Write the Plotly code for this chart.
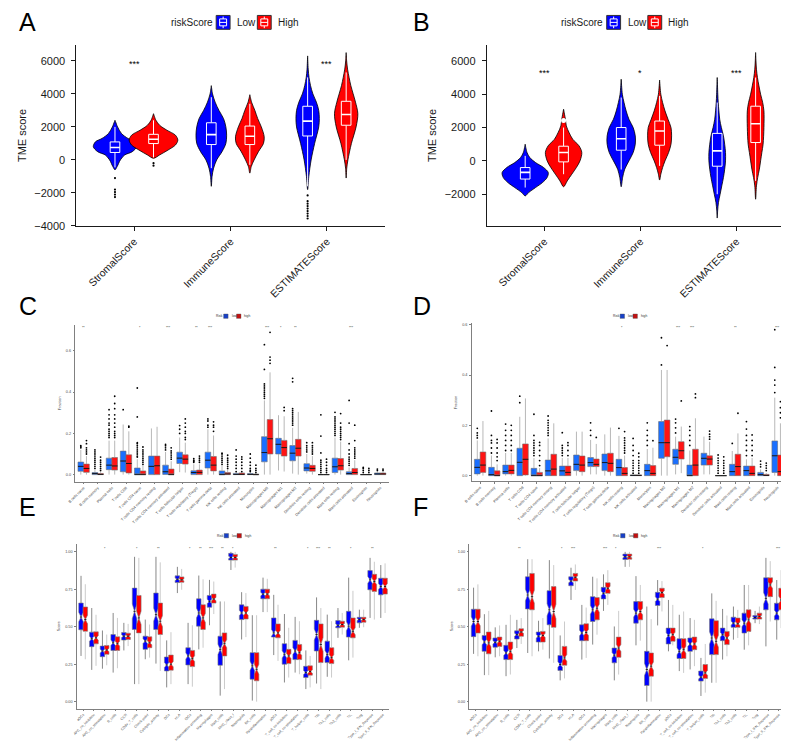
import numpy as np
import plotly.graph_objects as go

W, H = 789, 742
FONT = "Liberation Sans, Arial, sans-serif"

# ---------------- DATA ----------------
TME_CATS = ["StromalScore", "ImmuneScore", "ESTIMATEScore"]

# Panel A violin density profiles
A_LOW_LEVELS = [
    [-600, -400, 0, 300, 500, 800, 1100, 1300, 1600, 2000, 2300, 2400],
    [-1600, -1000, -500, 0, 500, 1000, 1500, 2000, 2500, 3000, 3500, 4000, 4500],
    [-1800, -1000, 0, 1000, 2000, 2500, 3000, 3500, 4000, 4500, 5000, 5500, 6300],
]
A_LOW_DENS = [
    [0, 0.1, 0.25, 0.45, 0.8, 1.0, 0.9, 0.6, 0.3, 0.12, 0.03, 0],
    [0, 0.05, 0.15, 0.35, 0.7, 0.95, 1.0, 0.95, 0.8, 0.5, 0.25, 0.08, 0],
    [0, 0.1, 0.3, 0.6, 0.95, 1.0, 0.95, 0.75, 0.45, 0.25, 0.12, 0.05, 0],
]
A_LOW_PEAK = [0.89, 0.63, 0.48]
A_HIGH_LEVELS = [
    [100, 300, 600, 900, 1200, 1500, 1800, 2100, 2400, 2800],
    [-800, -400, 0, 500, 1000, 1400, 2000, 2500, 3000, 3500, 3950],
    [-1100, -500, 0, 1000, 2000, 2800, 3500, 4000, 4500, 5000, 5500, 6000, 6500],
]
A_HIGH_DENS = [
    [0, 0.25, 0.6, 0.9, 1.0, 0.9, 0.55, 0.25, 0.1, 0],
    [0, 0.1, 0.3, 0.6, 0.95, 1.0, 0.8, 0.55, 0.35, 0.12, 0],
    [0, 0.05, 0.15, 0.45, 0.85, 1.0, 0.8, 0.6, 0.4, 0.25, 0.12, 0.04, 0],
]
A_HIGH_PEAK = [1.0, 0.59, 0.48]
A_LOW_Q1 = [450, 930, 1450]
A_LOW_MED = [750, 1530, 2350]
A_LOW_Q3 = [1090, 2250, 3250]
A_LOW_LO = [-450, -500, -1600]
A_LOW_HI = [2000, 3800, 5000]
A_HIGH_Q1 = [990, 930, 2100]
A_HIGH_MED = [1250, 1430, 2750]
A_HIGH_Q3 = [1550, 2050, 3550]
A_HIGH_LO = [150, -300, 0]
A_HIGH_HI = [2400, 3400, 5300]
A_LOW_OUT = [[-1100, -1800, -1950, -2100, -2250], [],
             [-2150, -2500, -2650, -2800, -2950, -3100, -3250, -3400, -3550]]
A_HIGH_OUT = [[-200, -350], [], []]
A_SIG = ["***", "", "***"]

# Panel B
B_LOW_LEVELS = [
    [-2100, -1900, -1600, -1300, -1000, -700, -400, -100, 200, 500, 1000],
    [-1550, -1000, -500, 0, 500, 1000, 1500, 2000, 2500, 3000, 3500, 4000, 4900],
    [-3430, -3000, -2500, -2000, -1500, -1000, -500, 0, 500, 1000, 1500, 2000, 2500, 3000, 3500, 4000, 5000],
]
B_LOW_DENS = [
    [0, 0.15, 0.45, 0.75, 0.95, 1.0, 0.8, 0.45, 0.2, 0.08, 0],
    [0, 0.1, 0.25, 0.55, 0.85, 1.0, 1.0, 0.85, 0.55, 0.35, 0.2, 0.08, 0],
    [0, 0.05, 0.15, 0.35, 0.55, 0.75, 0.9, 1.0, 1.0, 0.9, 0.75, 0.5, 0.3, 0.2, 0.12, 0.07, 0],
]
B_LOW_PEAK = [1.0, 0.61, 0.36]
B_HIGH_LEVELS = [
    [-1550, -1200, -800, -400, 0, 500, 900, 1300, 1700, 2100, 2500, 2800, 3100],
    [-1150, -800, -400, 0, 500, 1000, 1500, 2000, 2500, 3000, 3500, 4000, 4850],
    [-2300, -1500, -1000, -500, 0, 500, 1000, 2000, 3000, 3500, 4000, 4500, 5000, 5500, 6000, 6500],
]
B_HIGH_DENS = [
    [0, 0.2, 0.45, 0.7, 0.9, 1.0, 0.85, 0.5, 0.3, 0.15, 0.1, 0.05, 0],
    [0, 0.1, 0.25, 0.45, 0.75, 0.95, 1.0, 0.95, 0.7, 0.45, 0.25, 0.1, 0],
    [0, 0.1, 0.25, 0.45, 0.6, 0.75, 0.9, 1.0, 1.0, 0.85, 0.6, 0.4, 0.22, 0.1, 0.04, 0],
]
B_HIGH_PEAK = [0.79, 0.52, 0.36]
B_LOW_Q1 = [-1090, 640, -320]
B_LOW_MED = [-690, 1330, 600]
B_LOW_Q3 = [-400, 2000, 1650]
B_LOW_LO = [-1600, -520, -2000]
B_LOW_HI = [300, 3800, 3500]
B_HIGH_Q1 = [-60, 940, 1100]
B_HIGH_MED = [500, 1790, 2230]
B_HIGH_Q3 = [880, 2390, 3280]
B_HIGH_LO = [-800, -300, -1200]
B_HIGH_HI = [2000, 3900, 5000]
B_HIGH_OUT = [[2430], [], []]
B_SIG = ["***", "*", "***"]

# Panels C / D (CIBERSORT fractions)
CELL_CATS = ["B cells naive", "B cells memory", "Plasma cells", "T cells CD8", "T cells CD4 naive",
             "T cells CD4 memory resting", "T cells CD4 memory activated", "T cells follicular helper",
             "T cells regulatory (Tregs)", "T cells gamma delta", "NK cells resting", "NK cells activated",
             "Monocytes", "Macrophages M0", "Macrophages M1", "Macrophages M2", "Dendritic cells resting",
             "Dendritic cells activated", "Mast cells resting", "Mast cells activated", "Eosinophils",
             "Neutrophils"]
C_LOW_Q1 = [0.016, 0, 0.024, 0.014, 0, 0, 0.001, 0.054, 0, 0.032, 0, 0, 0, 0.062, 0.1, 0.067, 0.018, 0, 0.01, 0, 0, 0]
C_LOW_MED = [0.04, 0.005, 0.046, 0.066, 0, 0.04, 0.014, 0.08, 0.01, 0.07, 0, 0.001, 0.001, 0.107, 0.147, 0.104, 0.032, 0, 0.038, 0.005, 0, 0.003]
C_LOW_Q3 = [0.061, 0.01, 0.08, 0.114, 0.032, 0.09, 0.046, 0.109, 0.019, 0.109, 0.018, 0.006, 0.005, 0.184, 0.176, 0.141, 0.053, 0, 0.08, 0.014, 0, 0.008]
C_LOW_LO = [0, 0, 0, 0, 0, 0, 0, 0.012, 0, 0, 0, 0, 0, 0, 0.02, 0.005, 0.005, 0, 0, 0, 0, 0]
C_LOW_HI = [0.12, 0.022, 0.165, 0.243, 0.075, 0.224, 0.11, 0.18, 0.05, 0.22, 0.045, 0.012, 0.01, 0.36, 0.288, 0.227, 0.1, 0, 0.18, 0.035, 0, 0.012]
C_HIGH_Q1 = [0.011, 0, 0.022, 0.008, 0, 0, 0, 0.051, 0, 0.018, 0, 0, 0, 0.1, 0.09, 0.09, 0.016, 0, 0.022, 0, 0, 0]
C_HIGH_MED = [0.03, 0.001, 0.042, 0.054, 0, 0.043, 0, 0.075, 0.011, 0.046, 0.003, 0.001, 0, 0.174, 0.131, 0.128, 0.03, 0, 0.043, 0.01, 0, 0.003]
C_HIGH_Q3 = [0.051, 0.005, 0.083, 0.096, 0.018, 0.09, 0.027, 0.096, 0.022, 0.088, 0.01, 0.008, 0.003, 0.267, 0.166, 0.171, 0.045, 0, 0.078, 0.03, 0, 0.008]
C_HIGH_LO = [0, 0, 0, 0, 0, 0, 0, 0.01, 0, 0, 0, 0, 0, 0, 0.015, 0, 0, 0, 0, 0, 0, 0]
C_HIGH_HI = [0.09, 0.012, 0.165, 0.21, 0.045, 0.232, 0.065, 0.155, 0.05, 0.19, 0.025, 0.012, 0.006, 0.496, 0.283, 0.304, 0.09, 0, 0.16, 0.07, 0, 0.012]
C_LOW_OUT = [[0.13, 0.135, 0.14], [0.03, 0.04, 0.05, 0.06, 0.07, 0.08, 0.09, 0.1, 0.11, 0.12],
             [0.18, 0.19, 0.2, 0.21, 0.22, 0.24, 0.25, 0.27, 0.29, 0.315], [0.315],
             [0.085, 0.09, 0.1, 0.11, 0.12, 0.13, 0.14, 0.15, 0.155, 0.28, 0.42], [],
             [0.12, 0.13, 0.14, 0.147], [0.2, 0.22, 0.238], [0.06, 0.065, 0.07, 0.078],
             [0.23, 0.24, 0.26, 0.27], [0.05, 0.06, 0.07, 0.08, 0.09, 0.1, 0.104],
             [0.015, 0.03, 0.045, 0.06, 0.075, 0.09, 0.12], [0.015, 0.02, 0.03, 0.045, 0.06, 0.08, 0.1],
             [0.37, 0.38, 0.39, 0.4, 0.41, 0.42, 0.43, 0.44, 0.51, 0.63], [],
             [0.24, 0.25, 0.26, 0.27, 0.28, 0.29, 0.3, 0.31, 0.32, 0.45, 0.467],
             [0.11, 0.12, 0.13, 0.14, 0.155], [0.01, 0.02, 0.03, 0.04, 0.05, 0.06, 0.07, 0.105, 0.187, 0.29],
             [0.19, 0.2, 0.21, 0.22, 0.23, 0.24, 0.25, 0.26, 0.27, 0.28, 0.302],
             [0.045, 0.055, 0.065, 0.075, 0.085, 0.1, 0.12, 0.15, 0.25, 0.36], [0.01, 0.02, 0.03, 0.035],
             [0.02, 0.027]]
C_HIGH_OUT = [[0.1, 0.11, 0.12, 0.13, 0.15, 0.165], [0.02, 0.03, 0.04, 0.05, 0.06, 0.07, 0.085],
              [0.18, 0.19, 0.2, 0.21, 0.23, 0.25, 0.27, 0.29, 0.32, 0.345, 0.38], [0.23, 0.235],
              [0.05, 0.06, 0.07, 0.08, 0.09, 0.1, 0.11, 0.12, 0.134], [],
              [0.075, 0.085, 0.095, 0.105, 0.115, 0.13], [0.17, 0.18, 0.2, 0.21, 0.23, 0.25, 0.27],
              [0.06, 0.07, 0.08, 0.09], [0.21, 0.23, 0.24, 0.256], [0.03, 0.04, 0.05, 0.06, 0.07, 0.08, 0.094],
              [0.015, 0.03, 0.045, 0.06, 0.075, 0.086], [0.01, 0.02, 0.03, 0.046], [0.54, 0.555, 0.57, 0.69],
              [0.31, 0.326], [], [0.1, 0.11, 0.12, 0.13, 0.14, 0.155], [0.01, 0.02, 0.03, 0.045, 0.06, 0.075],
              [0.17, 0.18, 0.19, 0.2, 0.21, 0.22, 0.23, 0.25, 0.296], [0.08, 0.09, 0.1, 0.11, 0.12, 0.13, 0.165, 0.24],
              [0.01, 0.02, 0.03], [0.02, 0.027]]
C_SIG = ["**", "", "", "", "*", "", "***", "", "**", "***", "", "", "", "***", "*", "**", "", "", "", "***", "", ""]

D_LOW_Q1 = [0.007, 0, 0.007, 0, 0, 0, 0, 0.02, 0.036, 0.02, 0, 0, 0, 0.069, 0.045, 0, 0.042, 0, 0, 0, 0, 0.013]
D_LOW_MED = [0.033, 0.004, 0.016, 0.053, 0, 0.019, 0.019, 0.045, 0.052, 0.052, 0.032, 0.001, 0.02, 0.131, 0.073, 0, 0.069, 0, 0.016, 0.02, 0.004, 0.079]
D_LOW_Q3 = [0.065, 0.033, 0.042, 0.109, 0.029, 0.062, 0.038, 0.082, 0.072, 0.086, 0.065, 0.003, 0.045, 0.215, 0.105, 0.042, 0.089, 0, 0.045, 0.038, 0.013, 0.138]
D_LOW_LO = [0, 0, 0, 0, 0, 0, 0, 0, 0.005, 0, 0, 0, 0, 0, 0.005, 0, 0.005, 0, 0, 0, 0, 0]
D_LOW_HI = [0.14, 0.08, 0.09, 0.234, 0.07, 0.148, 0.07, 0.175, 0.142, 0.164, 0.158, 0.005, 0.106, 0.42, 0.155, 0.1, 0.155, 0, 0.098, 0.065, 0.025, 0.31]
D_HIGH_Q1 = [0.013, 0, 0.007, 0.003, 0, 0, 0, 0.016, 0.036, 0.016, 0, 0, 0, 0.075, 0.066, 0, 0.042, 0, 0, 0, 0, 0]
D_HIGH_MED = [0.042, 0, 0.021, 0.065, 0, 0.026, 0.013, 0.042, 0.045, 0.049, 0.009, 0.001, 0.009, 0.131, 0.099, 0.042, 0.066, 0, 0.036, 0.009, 0.001, 0.016]
D_HIGH_Q3 = [0.094, 0.019, 0.042, 0.126, 0.013, 0.085, 0.038, 0.078, 0.066, 0.089, 0.032, 0.003, 0.04, 0.221, 0.135, 0.105, 0.079, 0, 0.085, 0.038, 0.005, 0.082]
D_HIGH_LO = [0, 0, 0, 0, 0, 0, 0, 0, 0.005, 0, 0, 0, 0, 0, 0.01, 0, 0.005, 0, 0, 0, 0, 0]
D_HIGH_HI = [0.217, 0.045, 0.09, 0.307, 0.03, 0.208, 0.07, 0.175, 0.126, 0.191, 0.08, 0.005, 0.111, 0.42, 0.195, 0.228, 0.135, 0, 0.168, 0.07, 0.01, 0.208]
D_LOW_OUT = [[0.15, 0.16, 0.17, 0.188], [0.09, 0.11, 0.13, 0.14, 0.16, 0.257], [0.1, 0.12, 0.14, 0.16, 0.18, 0.205],
             [0.29, 0.316], [0.08, 0.09, 0.1, 0.11, 0.12, 0.13, 0.14, 0.16, 0.244],
             [0.16, 0.17, 0.18, 0.19, 0.2, 0.21, 0.22, 0.237], [0.08, 0.09, 0.1, 0.11, 0.12, 0.171], [],
             [0.16, 0.18, 0.21], [], [0.188], [0.01, 0.02, 0.03, 0.04, 0.05, 0.06, 0.08, 0.1, 0.12, 0.148],
             [0.12, 0.14, 0.16, 0.18, 0.21], [0.44, 0.548], [0.17, 0.19, 0.21, 0.225],
             [0.12, 0.14, 0.16, 0.18, 0.195], [], [0.01, 0.02, 0.03, 0.04, 0.05, 0.06, 0.07, 0.082], [0.128],
             [0.08, 0.1, 0.12, 0.14, 0.16, 0.185, 0.215], [0.035, 0.045, 0.058], [0.33, 0.36, 0.38, 0.43, 0.58]]
D_HIGH_OUT = [[], [0.06, 0.075, 0.09, 0.11, 0.13, 0.144], [0.1, 0.12, 0.14, 0.16, 0.18, 0.2], [],
              [0.04, 0.06, 0.08, 0.1, 0.12, 0.132], [], [0.08, 0.1, 0.12, 0.131], [], [0.152], [],
              [0.09, 0.1, 0.11, 0.12, 0.13, 0.14, 0.15, 0.175], [0.01, 0.02, 0.03, 0.04, 0.05, 0.06, 0.075, 0.089],
              [0.139], [0.517], [0.297], [0.31, 0.325], [0.145, 0.155, 0.165, 0.177],
              [0.01, 0.02, 0.03, 0.04, 0.05, 0.06, 0.075], [0.248], [0.08, 0.1, 0.12, 0.14, 0.162],
              [0.02, 0.03, 0.04, 0.05], [0.23, 0.25, 0.27, 0.294]]
D_SIG = ["", "", "", "", "", "", "", "", "", "", "*", "", "", "", "***", "***", "", "", "**", "", "", "***"]

# Panels E / F (ssGSEA immune function scores)
FUNC_CATS = ["aDCs", "APC_co_inhibition", "APC_co_stimulation", "B_cells", "CCR", "CD8+_T_cells",
             "Check-point", "Cytolytic_activity", "DCs", "HLA", "iDCs", "Inflammation-promoting",
             "Macrophages", "Mast_cells", "MHC_class_I", "Neutrophils", "NK_cells", "Parainflammation",
             "pDCs", "T_cell_co-inhibition", "T_cell_co-stimulation", "T_helper_cells", "Tfh", "Th1_cells",
             "Th2_cells", "TIL", "Treg", "Type_I_IFN_Reponse", "Type_II_IFN_Reponse"]
E_LOW_Q1 = [0.48, 0.367, 0.30, 0.342, 0.411, 0.482, 0.349, 0.482, 0.205, 0.795, 0.245, 0.504, 0.63, 0.243, 0.945, 0.548, 0.15, 0.687, 0.431, 0.25, 0.281, 0.161, 0.338, 0.261, 0.493, 0.431, 0.526, 0.747, 0.713]
E_LOW_MED = [0.565, 0.42, 0.338, 0.393, 0.437, 0.603, 0.404, 0.581, 0.245, 0.817, 0.305, 0.592, 0.669, 0.349, 0.963, 0.592, 0.239, 0.718, 0.459, 0.316, 0.338, 0.194, 0.448, 0.316, 0.51, 0.504, 0.548, 0.813, 0.769]
E_LOW_Q3 = [0.658, 0.464, 0.371, 0.448, 0.462, 0.758, 0.437, 0.725, 0.298, 0.84, 0.36, 0.687, 0.709, 0.437, 0.99, 0.647, 0.327, 0.751, 0.559, 0.387, 0.409, 0.236, 0.543, 0.404, 0.541, 0.603, 0.563, 0.875, 0.824]
E_LOW_LO = [0.305, 0.212, 0.22, 0.194, 0.342, 0.117, 0.283, 0.254, 0.095, 0.725, 0.117, 0.349, 0.51, 0.04, 0.879, 0.415, 0.007, 0.598, 0.311, 0.128, 0.194, 0.084, 0.121, 0.166, 0.426, 0.276, 0.493, 0.559, 0.559]
E_LOW_HI = [0.84, 0.625, 0.475, 0.592, 0.526, 0.967, 0.548, 0.967, 0.409, 0.9, 0.526, 0.842, 0.813, 0.669, 1.0, 0.731, 0.577, 0.828, 0.713, 0.585, 0.566, 0.342, 0.696, 0.581, 0.625, 0.828, 0.614, 0.96, 0.912]
E_HIGH_Q1 = [0.47, 0.386, 0.316, 0.342, 0.415, 0.459, 0.36, 0.448, 0.21, 0.797, 0.234, 0.482, 0.658, 0.305, 0.945, 0.552, 0.139, 0.687, 0.426, 0.254, 0.281, 0.177, 0.261, 0.254, 0.497, 0.426, 0.53, 0.736, 0.718]
E_HIGH_MED = [0.548, 0.426, 0.345, 0.387, 0.437, 0.559, 0.393, 0.537, 0.25, 0.813, 0.287, 0.559, 0.685, 0.387, 0.963, 0.592, 0.216, 0.718, 0.459, 0.305, 0.327, 0.201, 0.382, 0.294, 0.515, 0.47, 0.548, 0.802, 0.769]
E_HIGH_Q3 = [0.632, 0.466, 0.375, 0.433, 0.457, 0.709, 0.433, 0.658, 0.311, 0.833, 0.342, 0.647, 0.718, 0.459, 0.983, 0.636, 0.327, 0.751, 0.519, 0.349, 0.382, 0.239, 0.519, 0.36, 0.537, 0.559, 0.563, 0.85, 0.824]
E_HIGH_LO = [0.283, 0.239, 0.243, 0.223, 0.371, 0.117, 0.294, 0.205, 0.117, 0.747, 0.1, 0.36, 0.585, 0.084, 0.895, 0.431, 0.0, 0.598, 0.272, 0.161, 0.183, 0.095, 0.084, 0.161, 0.448, 0.294, 0.497, 0.548, 0.592]
E_HIGH_HI = [0.784, 0.58, 0.448, 0.559, 0.519, 0.96, 0.515, 0.93, 0.464, 0.886, 0.51, 0.817, 0.802, 0.669, 1.0, 0.725, 0.577, 0.82, 0.647, 0.493, 0.537, 0.305, 0.625, 0.537, 0.592, 0.74, 0.614, 0.934, 0.923]
E_SIG = ["", "", "*", "", "", "*", "", "**", "", "", "*", "**", "***", "**", "*", "", "", "", "**", "", "", "*", "***", "**", "", "*", "", "**", ""]

F_LOW_Q1 = [0.434, 0.336, 0.363, 0.281, 0.418, 0.619, 0.398, 0.513, 0.208, 0.774, 0.407, 0.535, 0.686, 0.259, 0.949, 0.524, 0.108, 0.642, 0.385, 0.288, 0.336, 0.137, 0.314, 0.407, 0.496, 0.458, 0.551, 0.613, 0.546]
F_LOW_MED = [0.535, 0.398, 0.396, 0.325, 0.447, 0.712, 0.436, 0.613, 0.248, 0.805, 0.458, 0.613, 0.723, 0.31, 0.967, 0.591, 0.215, 0.684, 0.442, 0.336, 0.385, 0.164, 0.425, 0.447, 0.524, 0.524, 0.562, 0.69, 0.591]
F_LOW_Q3 = [0.617, 0.442, 0.425, 0.376, 0.473, 0.834, 0.465, 0.741, 0.308, 0.834, 0.513, 0.701, 0.763, 0.358, 0.985, 0.668, 0.336, 0.73, 0.491, 0.42, 0.425, 0.204, 0.553, 0.491, 0.564, 0.591, 0.575, 0.827, 0.657]
F_LOW_LO = [0.319, 0.177, 0.296, 0.17, 0.358, 0.325, 0.336, 0.288, 0.142, 0.679, 0.281, 0.381, 0.606, 0.142, 0.9, 0.376, 0.0, 0.509, 0.336, 0.204, 0.215, 0.038, 0.126, 0.281, 0.414, 0.347, 0.524, 0.369, 0.414]
F_LOW_HI = [0.761, 0.584, 0.496, 0.513, 0.546, 0.951, 0.54, 0.945, 0.442, 0.894, 0.646, 0.834, 0.85, 0.502, 1.0, 0.838, 0.635, 0.812, 0.679, 0.58, 0.558, 0.292, 0.723, 0.619, 0.635, 0.779, 0.606, 0.96, 0.812]
F_HIGH_Q1 = [0.458, 0.319, 0.369, 0.281, 0.436, 0.613, 0.398, 0.496, 0.243, 0.805, 0.407, 0.546, 0.723, 0.296, 0.951, 0.546, 0.17, 0.695, 0.403, 0.288, 0.347, 0.155, 0.314, 0.381, 0.496, 0.469, 0.551, 0.701, 0.613]
F_HIGH_MED = [0.535, 0.392, 0.403, 0.336, 0.465, 0.701, 0.442, 0.602, 0.292, 0.83, 0.462, 0.624, 0.757, 0.358, 0.967, 0.602, 0.237, 0.728, 0.447, 0.347, 0.385, 0.192, 0.403, 0.425, 0.52, 0.546, 0.569, 0.779, 0.679]
F_HIGH_Q3 = [0.617, 0.465, 0.431, 0.398, 0.487, 0.856, 0.469, 0.768, 0.369, 0.856, 0.52, 0.695, 0.794, 0.431, 0.985, 0.668, 0.325, 0.757, 0.491, 0.42, 0.431, 0.248, 0.54, 0.469, 0.558, 0.613, 0.591, 0.827, 0.757]
F_HIGH_LO = [0.303, 0.177, 0.303, 0.181, 0.385, 0.303, 0.347, 0.259, 0.155, 0.746, 0.292, 0.447, 0.646, 0.181, 0.9, 0.407, 0.0, 0.602, 0.376, 0.192, 0.237, 0.06, 0.126, 0.303, 0.425, 0.376, 0.518, 0.535, 0.491]
F_HIGH_HI = [0.783, 0.606, 0.509, 0.58, 0.558, 0.951, 0.558, 0.912, 0.535, 0.916, 0.628, 0.823, 0.878, 0.606, 1.0, 0.779, 0.551, 0.805, 0.646, 0.602, 0.546, 0.385, 0.673, 0.575, 0.613, 0.779, 0.635, 0.938, 0.878]
F_SIG = ["", "", "", "", "**", "", "", "", "*", "***", "", "", "***", "*", "", "", "", "***", "", "", "", "*", "", "", "", "", "", "", "***"]
N_SAMPLES = 80

# ---------------- FIGURE ----------------
fig = go.Figure()


def fx(p):
    return p / W


def fy(p):
    return 1 - p / H


def add_violins(xa, ya, centers, levels, dens, peaks, max_hw, color):
    for c, lv, dn, pk in zip(centers, levels, dens, peaks):
        lv = np.asarray(lv, float)
        hw = np.asarray(dn, float) * pk * max_hw
        xs = np.concatenate([c + hw, (c - hw)[::-1]])
        ys = np.concatenate([lv, lv[::-1]])
        fig.add_trace(go.Scatter(x=xs, y=ys, xaxis=xa, yaxis=ya, mode="lines", fill="toself",
                                 fillcolor=color, line=dict(color="black", width=0.8, shape="spline", smoothing=0.9),
                                 hoverinfo="skip", showlegend=False))


def add_inner_box(xa, ya, centers, q1, med, q3, lo, hi, color, half=0.05):
    # boxplot drawn inside the violins (scatter so that it sits above the violin fills)
    for c, a, b, m, d, e in zip(centers, lo, q1, med, q3, hi):
        fig.add_trace(go.Scatter(x=[c, c, None, c, c], y=[a, b, None, d, e], xaxis=xa, yaxis=ya, mode="lines",
                                 line=dict(color="white", width=1), hoverinfo="skip", showlegend=False))
        fig.add_trace(go.Scatter(x=[c - half, c + half, c + half, c - half, c - half], y=[b, b, d, d, b],
                                 xaxis=xa, yaxis=ya, mode="lines", fill="toself", fillcolor=color,
                                 line=dict(color="white", width=1), hoverinfo="skip", showlegend=False))
        fig.add_trace(go.Scatter(x=[c - half, c + half], y=[m, m], xaxis=xa, yaxis=ya, mode="lines",
                                 line=dict(color="white", width=1.6), hoverinfo="skip", showlegend=False))


def add_points(xa, ya, centers, outs, color, size, symbol="circle"):
    xs, ys = [], []
    for c, o in zip(centers, outs):
        xs += [c] * len(o)
        ys += list(o)
    if xs:
        fig.add_trace(go.Scatter(x=xs, y=ys, xaxis=xa, yaxis=ya, mode="markers",
                                 marker=dict(color=color, size=size, symbol=symbol, line=dict(width=0)),
                                 hoverinfo="skip", showlegend=False))


def add_box_panel(xa, ya, offset, q1, med, q3, lo, hi, fill, outline, wcol, width,
                  notched=False, outs=None, med_frac=1.0):
    n = len(q1)
    pos = np.arange(n) + offset
    wx, wy = [], []
    for p, a, b, c, d in zip(pos, lo, q1, q3, hi):
        wx += [p, p, None, p, p, None]
        wy += [a, b, None, c, d, None]
    fig.add_trace(go.Scatter(x=wx, y=wy, xaxis=xa, yaxis=ya, mode="lines",
                             line=dict(color=wcol, width=0.7), hoverinfo="skip", showlegend=False))
    kw = {}
    if notched:
        iqr = np.asarray(q3) - np.asarray(q1)
        kw = dict(notched=True, notchspan=list(1.58 * iqr / np.sqrt(N_SAMPLES)), notchwidth=0.5)
    fig.add_trace(go.Box(x=list(pos), q1=q1, median=med, q3=q3, lowerfence=q1, upperfence=q3, width=width,
                         fillcolor=fill, line=dict(color=outline, width=0.6), whiskerwidth=0, boxpoints=False,
                         xaxis=xa, yaxis=ya, hoverinfo="skip", showlegend=False, **kw))
    mx, my = [], []
    half = width / 2 * med_frac
    for p, m in zip(pos, med):
        mx += [p - half, p + half, None]
        my += [m, m, None]
    fig.add_trace(go.Scatter(x=mx, y=my, xaxis=xa, yaxis=ya, mode="lines",
                             line=dict(color="black", width=0.8), hoverinfo="skip", showlegend=False))
    if outs is not None:
        add_points(xa, ya, pos, outs, "black", 1.8)


# Panel A
ca = np.arange(1, 4)
add_violins("x", "y", ca - 0.2, A_LOW_LEVELS, A_LOW_DENS, A_LOW_PEAK, 0.2526, "#0000FF")
add_violins("x", "y", ca + 0.2, A_HIGH_LEVELS, A_HIGH_DENS, A_HIGH_PEAK, 0.2526, "#FF0000")
add_inner_box("x", "y", ca - 0.2, A_LOW_Q1, A_LOW_MED, A_LOW_Q3, A_LOW_LO, A_LOW_HI, "#0000FF")
add_inner_box("x", "y", ca + 0.2, A_HIGH_Q1, A_HIGH_MED, A_HIGH_Q3, A_HIGH_LO, A_HIGH_HI, "#FF0000")
add_points("x", "y", ca - 0.2, A_LOW_OUT, "black", 2.2)
add_points("x", "y", ca + 0.2, A_HIGH_OUT, "black", 2.2)

# Panel B
add_violins("x2", "y2", ca - 0.2, B_LOW_LEVELS, B_LOW_DENS, B_LOW_PEAK, 0.2402, "#0000FF")
add_violins("x2", "y2", ca + 0.2, B_HIGH_LEVELS, B_HIGH_DENS, B_HIGH_PEAK, 0.2402, "#FF0000")
add_inner_box("x2", "y2", ca - 0.2, B_LOW_Q1, B_LOW_MED, B_LOW_Q3, B_LOW_LO, B_LOW_HI, "#0000FF")
add_inner_box("x2", "y2", ca + 0.2, B_HIGH_Q1, B_HIGH_MED, B_HIGH_Q3, B_HIGH_LO, B_HIGH_HI, "#FF0000")
add_points("x2", "y2", ca + 0.2, B_HIGH_OUT, "white", 5)

# Panels C, D
CBLUE, CRED = "#1A6FFF", "#FF1414"
add_box_panel("x3", "y3", -0.2, C_LOW_Q1, C_LOW_MED, C_LOW_Q3, C_LOW_LO, C_LOW_HI, CBLUE, "#707070", "#9a9a9a", 0.4, outs=C_LOW_OUT)
add_box_panel("x3", "y3", 0.2, C_HIGH_Q1, C_HIGH_MED, C_HIGH_Q3, C_HIGH_LO, C_HIGH_HI, CRED, "#707070", "#9a9a9a", 0.4, outs=C_HIGH_OUT)
add_box_panel("x4", "y4", -0.2, D_LOW_Q1, D_LOW_MED, D_LOW_Q3, D_LOW_LO, D_LOW_HI, CBLUE, "#707070", "#9a9a9a", 0.4, outs=D_LOW_OUT)
add_box_panel("x4", "y4", 0.2, D_HIGH_Q1, D_HIGH_MED, D_HIGH_Q3, D_HIGH_LO, D_HIGH_HI, CRED, "#707070", "#9a9a9a", 0.4, outs=D_HIGH_OUT)

# Panels E, F
add_box_panel("x5", "y5", -0.2, E_LOW_Q1, E_LOW_MED, E_LOW_Q3, E_LOW_LO, E_LOW_HI, "#0000FF", "#7a7a7a", "#555555", 0.42, notched=True, med_frac=0.5)
add_box_panel("x5", "y5", 0.2, E_HIGH_Q1, E_HIGH_MED, E_HIGH_Q3, E_HIGH_LO, E_HIGH_HI, "#FF0000", "#7a7a7a", "#b5b5b5", 0.42, notched=True, med_frac=0.5)
add_box_panel("x6", "y6", -0.2, F_LOW_Q1, F_LOW_MED, F_LOW_Q3, F_LOW_LO, F_LOW_HI, "#0000FF", "#7a7a7a", "#555555", 0.42, notched=True, med_frac=0.5)
add_box_panel("x6", "y6", 0.2, F_HIGH_Q1, F_HIGH_MED, F_HIGH_Q3, F_HIGH_LO, F_HIGH_HI, "#FF0000", "#7a7a7a", "#b5b5b5", 0.42, notched=True, med_frac=0.5)

# ---------------- AXES ----------------
big_tick = dict(family=FONT, size=11, color="#1a1a1a")
big_xtick = dict(family=FONT, size=10.5, color="#1a1a1a")
small_tick = dict(family=FONT, size=3.8, color="#4d4d4d")
small_xtick_e = dict(family=FONT, size=3.5, color="#4d4d4d")


def xax(dom, anchor, rng, vals, text, font, angle, lcolor, lwidth, tlen):
    return dict(domain=[fx(dom[0]), fx(dom[1])], anchor=anchor, range=rng, tickmode="array", tickvals=vals,
                ticktext=text, tickangle=angle, tickfont=font, showgrid=False, zeroline=False, showline=True,
                linecolor=lcolor, linewidth=lwidth, ticks="outside", ticklen=tlen, tickcolor=lcolor, tickwidth=lwidth)


def yax(dom, anchor, rng, vals, text, font, lcolor, lwidth, tlen, title, tsize, standoff, lstand):
    return dict(domain=[fy(dom[1]), fy(dom[0])], anchor=anchor, range=rng, tickmode="array", tickvals=vals,
                ticktext=text, tickfont=font, showgrid=False, zeroline=False, showline=True,
                linecolor=lcolor, linewidth=lwidth, ticks="outside", ticklen=tlen, tickcolor=lcolor, tickwidth=lwidth,
                ticklabelstandoff=lstand,
                title=dict(text=title, standoff=standoff, font=dict(family=FONT, size=tsize, color=font["color"])))


yA = [-4000, -2000, 0, 2000, 4000, 6000]
yB = [-2000, 0, 2000, 4000, 6000]
yC = [0, 0.2, 0.4, 0.6]
yE = [0, 0.25, 0.5, 0.75, 1.0]
nC, nE = len(CELL_CATS), len(FUNC_CATS)
yA_txt = ["−4000", "−2000", "0", "2000", "4000", "6000"]
yB_txt = ["−2000", "0", "2000", "4000", "6000"]
yC_txt = ["0.0", "0.2", "0.4", "0.6"]
yE_txt = ["0.00", "0.25", "0.50", "0.75", "1.00"]

layout_axes = dict(
    xaxis=xax((62, 373), "y", [0.4, 3.6], [1, 2, 3], TME_CATS, big_xtick, -45, "#1a1a1a", 1, 4),
    yaxis=yax((37, 220), "x", [-4018, 6980], yA, yA_txt, big_tick, "#1a1a1a", 1, 4, "TME score", 11, 5, 4),
    xaxis2=xax((476, 786), "y2", [0.4, 3.6], [1, 2, 3], TME_CATS, big_xtick, -45, "#1a1a1a", 1, 4),
    yaxis2=yax((37, 220), "x2", [-3920, 6970], yB, yB_txt, big_tick, "#1a1a1a", 1, 4, "TME score", 11, 5, 4),
    xaxis3=xax((60.7, 377), "y3", [-0.6, nC - 0.4], list(range(nC)), CELL_CATS, small_tick, -45, "#808080", 0.8, 1.5),
    yaxis3=yax((319.3, 477.7), "x3", [-0.035, 0.727], yC, yC_txt, small_tick, "#808080", 0.8, 1.5, "Fraction", 3.8, 4, 1),
    xaxis4=xax((460.7, 778), "y4", [-0.6, nC - 0.4], list(range(nC)), CELL_CATS, small_tick, -45, "#808080", 0.8, 1.5),
    yaxis4=yax((318, 477.3), "x4", [-0.023, 0.605], yC, yC_txt, small_tick, "#808080", 0.8, 1.5, "Fraction", 3.8, 4, 1),
    xaxis5=xax((62.3, 377.7), "y5", [-0.6, nE - 0.4], list(range(nE)), FUNC_CATS, small_xtick_e, -45, "#808080", 0.8, 1.5),
    yaxis5=yax((540, 706.7), "x5", [-0.049, 1.055], yE, yE_txt, small_tick, "#808080", 0.8, 1.5, "Score", 3.8, 4, 1),
    xaxis6=xax((458.3, 777.3), "y6", [-0.6, nE - 0.4], list(range(nE)), FUNC_CATS, small_xtick_e, -45, "#808080", 0.8, 1.5),
    yaxis6=yax((540, 706.7), "x6", [-0.049, 1.055], yE, yE_txt, small_tick, "#808080", 0.8, 1.5, "Score", 3.8, 4, 1),
)

# ---------------- ANNOTATIONS ----------------
ann = []


def txt(x, y, s, size, color="black", xanchor="center", yanchor="middle", xref="paper", yref="paper"):
    ann.append(dict(x=x, y=y, xref=xref, yref=yref, text=s, showarrow=False, xanchor=xanchor, yanchor=yanchor,
                    font=dict(family=FONT, size=size, color=color)))


# panel letters
for letter, lx, ly in [("A", 2, 14), ("B", 400, 14), ("C", 2, 300), ("D", 400, 300), ("E", 2, 503), ("F", 400, 503)]:
    txt(fx(lx), fy(ly), letter, 25, xanchor="left")

# significance labels
for i, s in enumerate(A_SIG):
    if s:
        txt(i + 1, 5800, s, 9, xref="x", yref="y")
for i, s in enumerate(B_SIG):
    if s:
        txt(i + 1, 5260, s, 9, xref="x2", yref="y2")
for sigs, xr, yr, yv in [(C_SIG, "x3", "y3", 0.713), (D_SIG, "x4", "y4", 0.588),
                         (E_SIG, "x5", "y5", 1.02), (F_SIG, "x6", "y6", 1.02)]:
    for i, s in enumerate(sigs):
        if s:
            txt(i, yv, s, 3.5, color="#333", xref=xr, yref=yr)

# ---------------- LEGENDS ----------------
shapes = []


def rect(x0, y0, x1, y1, fill, line_color, lw):
    shapes.append(dict(type="rect", xref="paper", yref="paper", x0=fx(x0), x1=fx(x1), y0=fy(y1), y1=fy(y0),
                       fillcolor=fill, line=dict(color=line_color, width=lw)))


def seg(x0, y0, x1, y1, color, lw):
    shapes.append(dict(type="line", xref="paper", yref="paper", x0=fx(x0), x1=fx(x1), y0=fy(y0), y1=fy(y1),
                       line=dict(color=color, width=lw)))


def big_key(x0, y0, color):
    rect(x0, y0, x0 + 14, y0 + 14, color, "#333333", 1)
    rect(x0 + 3.5, y0 + 3.5, x0 + 10.5, y0 + 10.5, "rgba(0,0,0,0)", "white", 1)
    seg(x0 + 3.5, y0 + 7, x0 + 10.5, y0 + 7, "white", 1)
    seg(x0 + 7, y0 + 1.2, x0 + 7, y0 + 3.5, "white", 1)
    seg(x0 + 7, y0 + 10.5, x0 + 7, y0 + 12.8, "white", 1)


for base in [0, 394]:
    txt(fx(155 + base), fy(14.5), "riskScore", 10, color="#1a1a1a", xanchor="left")
    big_key(203 + base, 7.5, "#0000FF")
    txt(fx(222 + base), fy(14.5), "Low", 10, color="#1a1a1a", xanchor="left")
    big_key(244.5 + base, 7.5, "#FF0000")
    txt(fx(263 + base), fy(14.5), "High", 10, color="#1a1a1a", xanchor="left")


def small_legend(bx, cy):
    txt(fx(bx), fy(cy), "Risk", 3.3, color="#333", xanchor="left")
    rect(bx + 9.5, cy - 2.2, bx + 14, cy + 2.2, "#1740C8", "#555", 0.4)
    txt(fx(bx + 15.5), fy(cy), "low", 3.3, color="#333", xanchor="left")
    rect(bx + 22.5, cy - 2.2, bx + 27, cy + 2.2, "#C41010", "#555", 0.4)
    txt(fx(bx + 28.5), fy(cy), "high", 3.3, color="#333", xanchor="left")


small_legend(201, 310.7)
small_legend(601, 310.7)
small_legend(201.5, 532)
small_legend(601.5, 532)

fig.update_layout(
    width=W, height=H, margin=dict(l=0, r=0, t=0, b=0),
    paper_bgcolor="white", plot_bgcolor="white", showlegend=False,
    font=dict(family=FONT), annotations=ann, shapes=shapes, boxmode="overlay",
    **layout_axes,
)

fig.write_html("out.html")
